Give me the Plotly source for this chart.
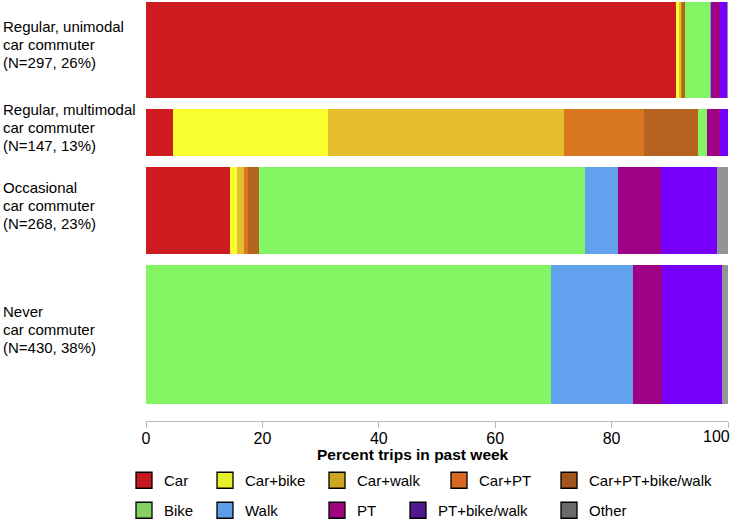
import plotly.graph_objects as go

# ---- data ----
group_labels = [
    "Regular, unimodal<br>car commuter<br>(N=297, 26%)",
    "Regular, multimodal<br>car commuter<br>(N=147, 13%)",
    "Occasional<br>car commuter<br>(N=268, 23%)",
    "Never<br>car commuter<br>(N=430, 38%)",
]
group_n = [297, 147, 268, 430]

modes = ["Car", "Car+bike", "Car+walk", "Car+PT", "Car+PT+bike/walk",
         "Bike", "Walk", "PT", "PT+bike/walk", "Other"]

car          = [91.0, 4.7, 14.4, 0.0]
car_bike     = [0.5, 26.5, 1.25, 0.0]
car_walk     = [0.4, 40.6, 1.2, 0.0]
car_pt       = [0.35, 13.7, 0.7, 0.0]
car_pt_bw    = [0.3, 9.4, 1.9, 0.0]
bike         = [4.4, 1.5, 56.0, 69.6]
walk         = [0.2, 0.0, 5.7, 14.1]
pt           = [1.4, 2.3, 7.3, 5.0]
pt_bw        = [1.4, 1.3, 9.7, 10.2]
other        = [0.1, 0.0, 1.9, 1.1]
series = [car, car_bike, car_walk, car_pt, car_pt_bw, bike, walk, pt, pt_bw, other]

bar_colors = ["#CD1B1F", "#F9FF2E", "#E6BD2C", "#D97721", "#B5631E",
              "#83F562", "#62A1EE", "#9E0086", "#7700FD", "#949494"]
legend_colors = ["#C8171E", "#E6F02A", "#CFA622", "#D76923", "#A4551B",
                 "#86D063", "#5E9EE8", "#A0047E", "#52198E", "#6B6B6B"]

x_ticks = [0, 20, 40, 60, 80, 100]
x_ticktext = ["0", "20", "40", "60", "80", "100"]

# ---- layout helpers (bar thickness proportional to N) ----
GAP = 34
PAD_TOP = 6
centers = []
start = PAD_TOP
for n in group_n:
    centers.append(start + n / 2)
    start += n + GAP
y_max = start - GAP + 53

FONT = "Arial, Liberation Sans, sans-serif"
ML, MR, MT, MB = 146, 3, 0, 100
W, H = 731, 521
PW, PH = W - ML - MR, H - MT - MB

fig = go.Figure()
for name, vals, col in zip(modes, series, bar_colors):
    fig.add_trace(go.Bar(
        x=vals, y=centers, width=group_n, orientation="h",
        marker=dict(color=col, line=dict(width=0)),
        name=name, showlegend=False, hoverinfo="x+name",
    ))

# legend: one small legend per entry, laid out as 2 rows x 5 columns
legend_left_px = [124, 205, 317, 439, 549,
                  124, 205, 317, 398, 549]
legend_top_px = [464] * 5 + [494] * 5
legend_layout = {}
for i, (name, col) in enumerate(zip(modes, legend_colors)):
    key = "legend" if i == 0 else f"legend{i + 1}"
    fig.add_trace(go.Scatter(
        x=[None], y=[None], mode="markers", name=name,
        marker=dict(symbol="square", size=16, color=col,
                    line=dict(color="black", width=1.3)),
        legend=key, showlegend=True,
    ))
    legend_layout[key] = dict(
        orientation="v", yanchor="top", xanchor="left",
        x=(legend_left_px[i] - ML) / PW, y=-(legend_top_px[i] - (H - MB)) / PH,
        font=dict(family=FONT, size=15, color="black"),
        bgcolor="rgba(0,0,0,0)", itemsizing="trace",
    )

# category labels, left-aligned, one annotation per text line
LINE_H = 18
annotations = []
for lab, cy in zip(group_labels, centers):
    lines = lab.split("<br>")
    for k, line in enumerate(lines):
        annotations.append(dict(
            x=0, xref="paper", xshift=-ML + 1, xanchor="left",
            y=cy, yref="y", yanchor="middle",
            yshift=5 + ((len(lines) - 1) / 2 - k) * LINE_H,
            text=line, showarrow=False, align="left",
            font=dict(family=FONT, size=15, color="black"),
        ))
annotations.append(dict(
    x=(413 - ML) / PW, xref="paper", y=-(454 - (H - MB)) / PH, yref="paper",
    text="<b>Percent trips in past week</b>", showarrow=False,
    xanchor="center", yanchor="middle",
    font=dict(family=FONT, size=15.5, color="black"),
))
# the last tick label is pulled inside the page edge, as in the reference
annotations.append(dict(
    x=x_ticks[-1], xref="x", xanchor="right", xshift=4,
    y=-(437 - (H - MB)) / PH, yref="paper", yanchor="middle",
    text=x_ticktext[-1], showarrow=False,
    font=dict(family=FONT, size=16, color="black"),
))

fig.update_layout(
    width=W, height=H,
    margin=dict(l=ML, r=MR, t=MT, b=MB, autoexpand=False),
    barmode="stack", bargap=0,
    plot_bgcolor="white", paper_bgcolor="white",
    xaxis=dict(range=[0, 100], tickvals=x_ticks,
               ticktext=x_ticktext[:-1] + [""],
               showgrid=False, zeroline=False,
               showline=True, linecolor="#BBBBBB", linewidth=1,
               ticks="outside", tickcolor="#BBBBBB", ticklen=6,
               ticklabelstandoff=-3,
               tickfont=dict(family=FONT, size=16, color="black")),
    yaxis=dict(range=[y_max, 0], showticklabels=False, showgrid=False,
               zeroline=False, showline=False, ticks=""),
    annotations=annotations,
    **legend_layout,
)

fig.write_html(
    "out.html",
    config={"displayModeBar": False},
    post_script="document.body.style.margin='0px';",
)
